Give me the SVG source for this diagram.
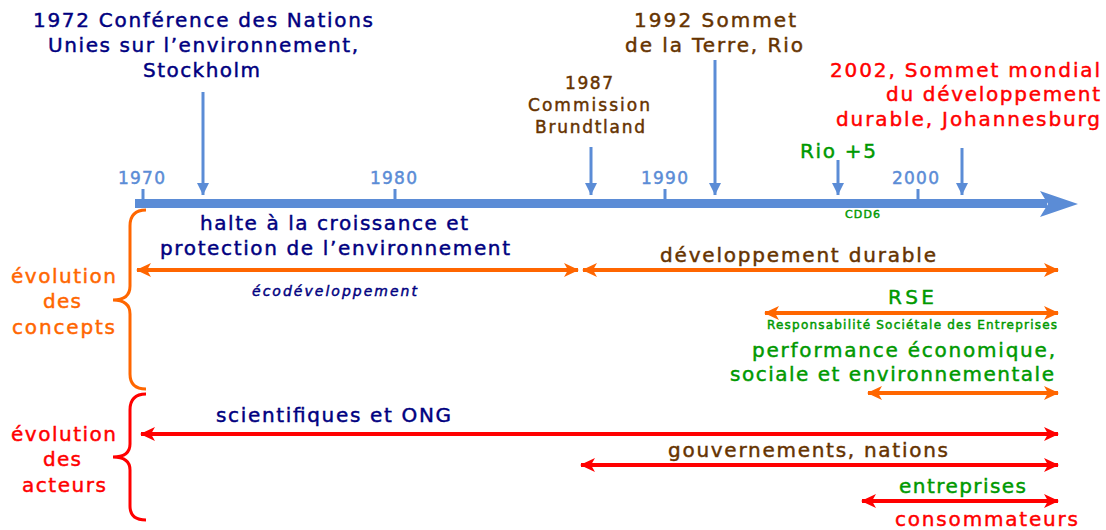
<svg xmlns="http://www.w3.org/2000/svg" width="1106" height="530" viewBox="0 0 1106 530">
<style>
text{font-family:"DejaVu Sans","Liberation Sans",sans-serif;stroke-width:0.45}
.t20{font-size:20px}
.t17{font-size:17px}
.navy{fill:#000080;stroke:#000080}
.brown{fill:#663300;stroke:#663300}
.red{fill:#ff0000;stroke:#ff0000}
.green{fill:#009900;stroke:#009900}
.orange{fill:#ff6600;stroke:#ff6600}
.blue{fill:#5b8cd6;stroke:#5b8cd6}
.tl{stroke:#5b8cd6;fill:none}
.oa{stroke:#ff6600;stroke-width:4;fill:none}
.ra{stroke:#ff0000;stroke-width:4;fill:none}
</style>
<defs>
<marker id="vb" markerUnits="userSpaceOnUse" markerWidth="14" markerHeight="12" refX="12" refY="6" orient="auto"><path d="M0,0 L12,6 L0,12 Z" fill="#5b8cd6"/></marker>
<marker id="oe" markerUnits="userSpaceOnUse" markerWidth="16" markerHeight="14" refX="14" refY="7" orient="auto-start-reverse"><path d="M0,0 L15,7 L0,14 L4,7 Z" fill="#ff6600"/></marker>
<marker id="re" markerUnits="userSpaceOnUse" markerWidth="16" markerHeight="14" refX="14" refY="7" orient="auto-start-reverse"><path d="M0,0 L15,7 L0,14 L4,7 Z" fill="#ff0000"/></marker>
</defs>

<g id="timeline">
<rect x="135" y="199" width="912" height="9" fill="#5b8cd6"/>
<path d="M1040,191 L1078,204 L1040,217 L1048,204 Z" fill="#5b8cd6"/>
<g class="tl" stroke-width="3">
<line x1="143" y1="189" x2="143" y2="200"/>
<line x1="395" y1="189" x2="395" y2="200"/>
<line x1="665" y1="189" x2="665" y2="200"/>
<line x1="918" y1="189" x2="918" y2="200"/>
</g>
<g class="t17 blue">
<text x="118" y="184" textLength="47" lengthAdjust="spacing">1970</text>
<text x="370" y="184" textLength="47" lengthAdjust="spacing">1980</text>
<text x="641" y="184" textLength="47" lengthAdjust="spacing">1990</text>
<text x="892" y="184" textLength="47" lengthAdjust="spacing">2000</text>
</g>
</g>

<g id="events" class="tl" stroke-width="3">
<line x1="203" y1="92" x2="203" y2="195" marker-end="url(#vb)"/>
<line x1="591" y1="147" x2="591" y2="195" marker-end="url(#vb)"/>
<line x1="715" y1="60" x2="715" y2="195" marker-end="url(#vb)"/>
<line x1="838" y1="160" x2="838" y2="195" marker-end="url(#vb)"/>
<line x1="962" y1="148" x2="962" y2="195" marker-end="url(#vb)"/>
</g>

<g id="stockholm" class="t20 navy">
<text x="33" y="27" textLength="340" lengthAdjust="spacing">1972 Conférence des Nations</text>
<text x="48" y="52" textLength="310" lengthAdjust="spacing">Unies sur l’environnement,</text>
<text x="143" y="77" textLength="117" lengthAdjust="spacing">Stockholm</text>
</g>
<g id="rio" class="t20 brown">
<text x="634" y="27" textLength="162" lengthAdjust="spacing">1992 Sommet</text>
<text x="625" y="52" textLength="178" lengthAdjust="spacing">de la Terre, Rio</text>
</g>
<g id="brundtland" class="t17 brown">
<text x="565" y="89" textLength="48" lengthAdjust="spacing">1987</text>
<text x="528" y="111" textLength="122" lengthAdjust="spacing">Commission</text>
<text x="535" y="133" textLength="110" lengthAdjust="spacing">Brundtland</text>
</g>
<g id="johannesburg" class="t20 red">
<text x="830" y="77" textLength="270" lengthAdjust="spacing">2002, Sommet mondial</text>
<text x="886" y="101" textLength="214" lengthAdjust="spacing">du développement</text>
<text x="836" y="126" textLength="264" lengthAdjust="spacing">durable, Johannesburg</text>
</g>
<g id="rio5"><text x="800" y="158" class="t20 green" textLength="76" lengthAdjust="spacing">Rio +5</text></g>
<g id="cdd6"><text x="845" y="218" class="green" font-size="11" stroke-width="0.2" textLength="35" lengthAdjust="spacing">CDD6</text></g>

<g id="concepts-brace">
<path d="M146,210 Q130,210 130,226 L130,286 Q130,300 113,300 Q130,300 130,314 L130,374 Q130,389 146,389" stroke="#ff6600" stroke-width="3" fill="none"/>
<g class="t20 orange">
<text x="11" y="283" textLength="105" lengthAdjust="spacing">évolution</text>
<text x="43" y="308" textLength="38" lengthAdjust="spacing">des</text>
<text x="12" y="334" textLength="103" lengthAdjust="spacing">concepts</text>
</g>
</g>
<g id="acteurs-brace">
<path d="M146,394 Q130,394 130,410 L130,444 Q130,457 113,457 Q130,457 130,470 L130,506 Q130,520 146,520" stroke="#ff0000" stroke-width="3" fill="none"/>
<g class="t20 red">
<text x="11" y="441" textLength="105" lengthAdjust="spacing">évolution</text>
<text x="43" y="466" textLength="38" lengthAdjust="spacing">des</text>
<text x="22" y="492" textLength="84" lengthAdjust="spacing">acteurs</text>
</g>
</g>

<g id="connectors">
<line class="oa" x1="137" y1="270" x2="578" y2="270" marker-start="url(#oe)" marker-end="url(#oe)"/>
<line class="oa" x1="583" y1="270" x2="1058" y2="270" marker-start="url(#oe)" marker-end="url(#oe)"/>
<line class="oa" x1="765" y1="313" x2="1058" y2="313" marker-start="url(#oe)" marker-end="url(#oe)"/>
<line class="oa" x1="868" y1="393" x2="1058" y2="393" marker-start="url(#oe)" marker-end="url(#oe)"/>
<line class="ra" x1="141" y1="434" x2="1058" y2="434" marker-start="url(#re)" marker-end="url(#re)"/>
<line class="ra" x1="581" y1="465" x2="1058" y2="465" marker-start="url(#re)" marker-end="url(#re)"/>
<line class="ra" x1="862" y1="501" x2="1058" y2="501" marker-start="url(#re)" marker-end="url(#re)"/>
</g>

<g id="halte" class="t20 navy">
<text x="200" y="230" textLength="268" lengthAdjust="spacing">halte à la croissance et</text>
<text x="160" y="255" textLength="350" lengthAdjust="spacing">protection de l’environnement</text>
</g>
<g id="ecodev"><text x="252" y="296" class="navy" font-size="14" font-style="italic" stroke-width="0.3" textLength="165" lengthAdjust="spacing">écodéveloppement</text></g>
<g id="devdurable"><text x="660" y="262" class="t20 brown" textLength="276" lengthAdjust="spacing">développement durable</text></g>
<g id="rse">
<text x="888" y="304" class="t20 green" textLength="46" lengthAdjust="spacing">RSE</text>
<text x="767" y="329" class="green" font-size="12" stroke-width="0.3" textLength="290" lengthAdjust="spacing">Responsabilité Sociétale des Entreprises</text>
</g>
<g id="performance" class="t20 green">
<text x="752" y="357" textLength="303" lengthAdjust="spacing">performance économique,</text>
<text x="730" y="381" textLength="324" lengthAdjust="spacing">sociale et environnementale</text>
</g>
<g id="scientifiques"><text x="216" y="422" class="t20 navy" textLength="235" lengthAdjust="spacing">scientifiques et ONG</text></g>
<g id="gouvernements"><text x="668" y="457" class="t20 brown" textLength="280" lengthAdjust="spacing">gouvernements, nations</text></g>
<g id="entreprises"><text x="899" y="493" class="t20 green" textLength="127" lengthAdjust="spacing">entreprises</text></g>
<g id="consommateurs"><text x="895" y="526" class="t20 red" textLength="183" lengthAdjust="spacing">consommateurs</text></g>
</svg>
